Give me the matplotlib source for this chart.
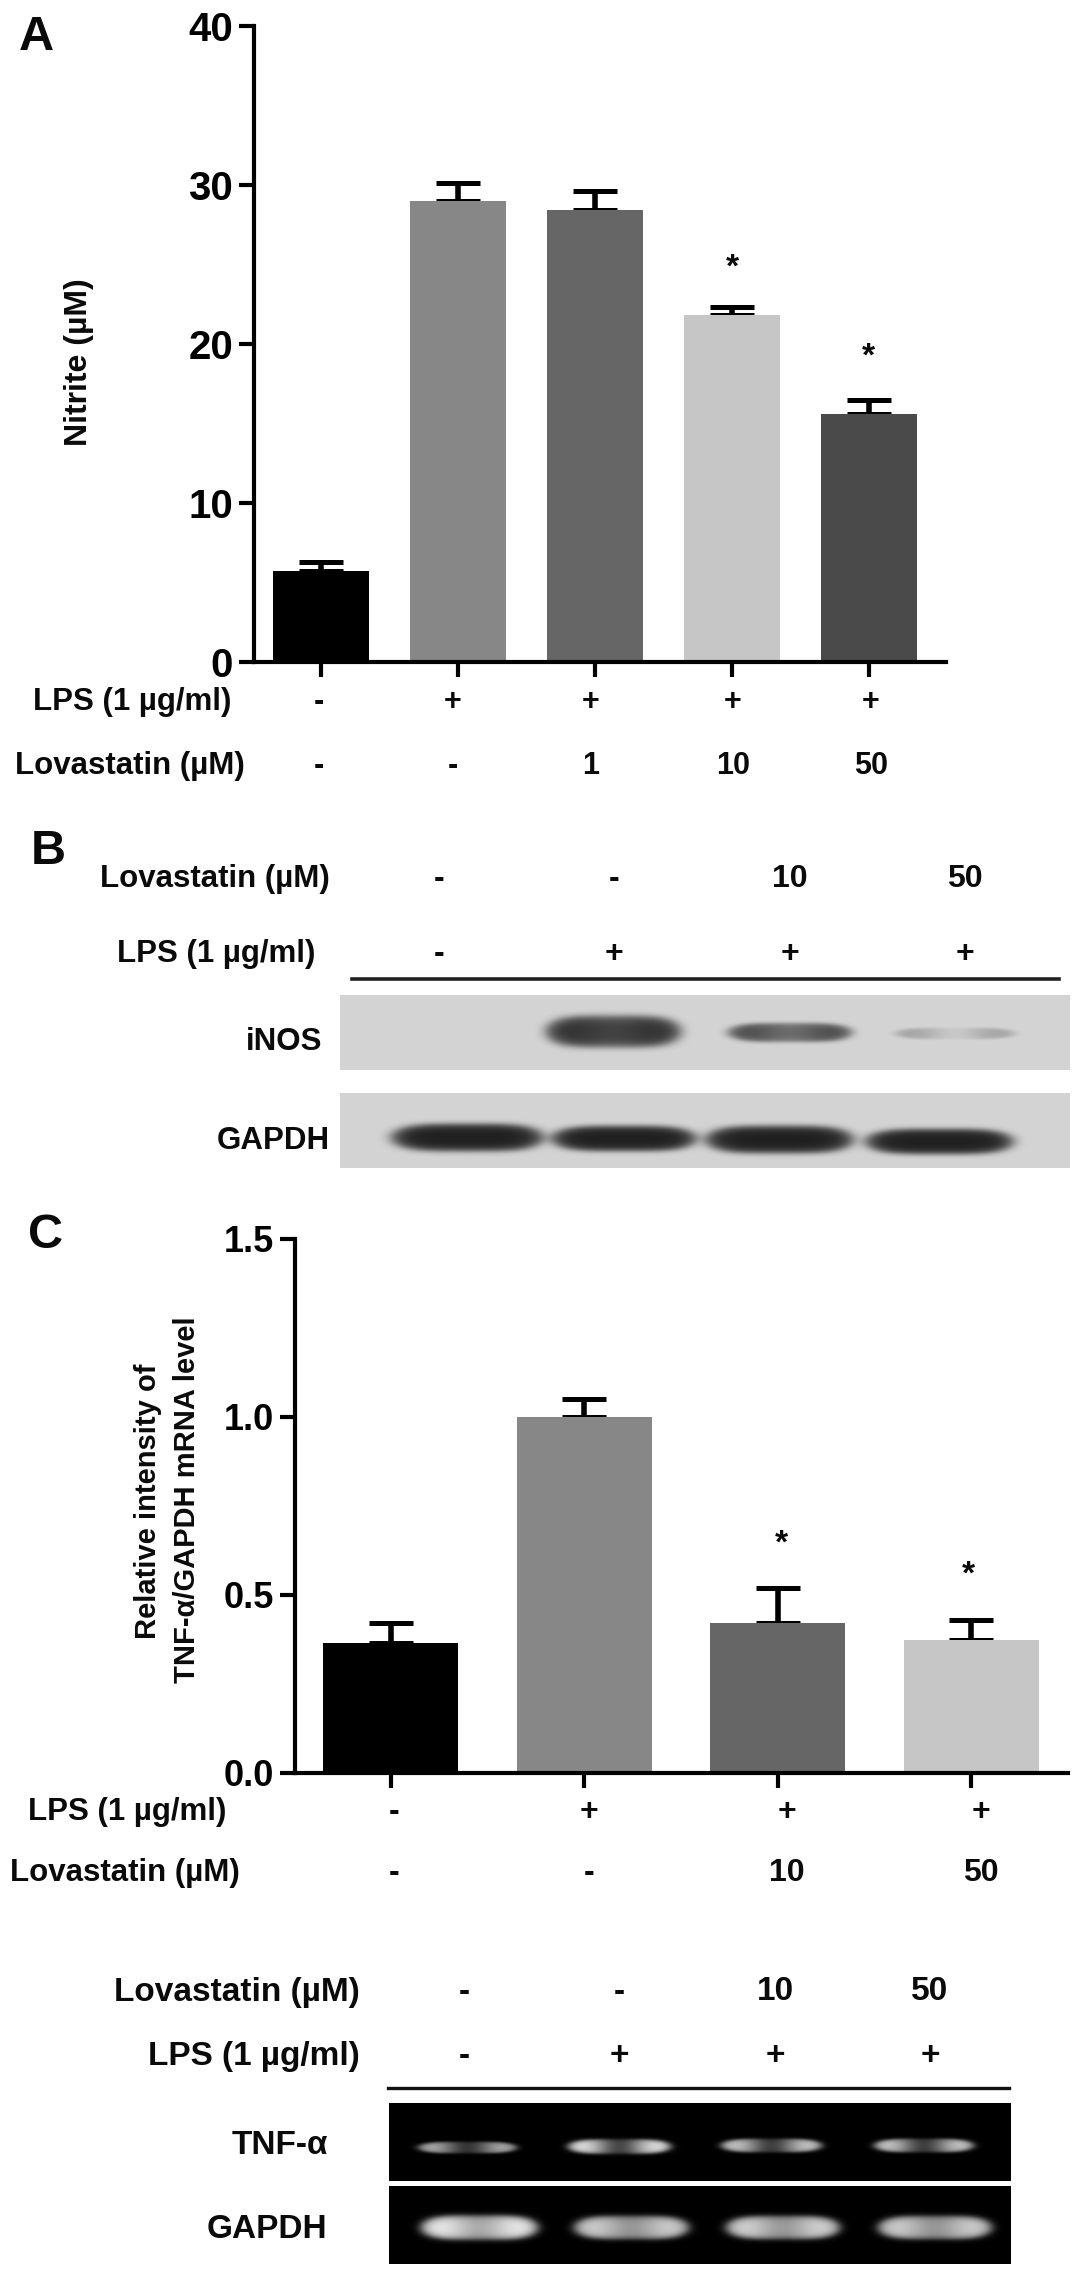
import matplotlib
matplotlib.use("Agg")
import matplotlib.pyplot as plt
import numpy as np

plt.rcParams['font.family'] = ['Liberation Sans', 'DejaVu Sans']
plt.rcParams['font.weight'] = 'bold'

W, H = 1087, 2277

# ------ panel A data:
a_values = [5.7, 29.0, 28.4, 21.8, 15.6]
a_err = [0.6, 1.1, 1.2, 0.5, 0.9]
a_colors = ["#000000", "#878787", "#666666", "#c6c6c6", "#4a4a4a"]
a_ticks = [0, 10, 20, 30, 40]
a_lps = ["-", "+", "+", "+", "+"]
a_lov = ["-", "-", "1", "10", "50"]

# ------ panel C data:
c_values = [0.365, 1.0, 0.42, 0.375]
c_err = [0.055, 0.05, 0.10, 0.055]
c_colors = ["#000000", "#878787", "#666666", "#c6c6c6"]
c_ticks = [0.0, 0.5, 1.0, 1.5]
c_lps = ["-", "+", "+", "+"]
c_lov = ["-", "-", "10", "50"]

# ------ blots, band strength (0 = none, 1 = full):
b_lps = ["-", "+", "+", "+"]
b_lov = ["-", "-", "10", "50"]
inos_strength = [0.95, 0.80, 0.30]
inos_dip = [0.12, 0.25, 0.75]
b_gapdh_strength = [1.0, 1.0, 1.0, 1.0]
tnf_strength = [0.75, 1.0, 0.88, 0.88]
d_gapdh_strength = [1.0, 0.88, 0.90, 0.88]


def chart_axes(fig, left, right, top, bottom):
    return fig.add_axes([left/W, 1-bottom/H, (right-left)/W, (bottom-top)/H])


def page_text(x, y, s, size=22.5, ha="center", rotation=0):
    page.text(x, y, s, fontsize=size, ha=ha, va="center", rotation=rotation,
              fontweight="bold", color="#0a0a0a")


def bar_panel(ax, values, err, colors, ticks, first, step, width, left, right, cap, fmt, size):
    xs = np.arange(len(values))
    ax.bar(xs, values, width=width/step, color=colors, zorder=2)
    ax.errorbar(xs, values, yerr=[np.zeros(len(err)), err], fmt="none", ecolor="black",
                elinewidth=4, capsize=cap, capthick=3.6, zorder=1)
    ax.set_xlim((left-first)/step, (right-first)/step)
    ax.set_ylim(ticks[0], ticks[-1])
    ax.set_yticks(ticks)
    ax.set_yticklabels([fmt % t for t in ticks], fontsize=size, fontweight="bold")
    ax.set_xticks(xs)
    ax.set_xticklabels([])
    ax.spines["top"].set_visible(False)
    ax.spines["right"].set_visible(False)
    ax.spines["left"].set_linewidth(3)
    ax.spines["bottom"].set_linewidth(3)
    ax.tick_params(axis="both", width=3, length=11, pad=4)
    ax.patch.set_alpha(0)


def gel(rect, lefts, rights, yc, heights, strength, bg, fg, dip=None):
    # blot strip as an image, bands with round ends and blurred a bit like the scan
    x0, x1, y0, y1 = rect
    xx, yy = np.meshgrid(np.arange(x0, x1), np.arange(y0, y1))
    img = np.full(xx.shape, float(bg))
    if dip is None:
        dip = [0.0]*len(lefts)
    for l, r, y, h, s, d in zip(lefts, rights, yc, heights, strength, dip):
        mid = (l+r)/2
        dist = ((xx-mid)/((r-l)/2))**4 + ((yy-y)/(h/2))**2
        band = 1/(1+np.exp((dist-1)/0.3))
        band = band * (1 - d*np.exp(-((xx-mid)/((r-l)*0.26))**2))
        img = img + (fg-bg)*s*band
    page.imshow(img, cmap="gray", vmin=0, vmax=1, extent=[x0, x1, y1, y0],
                aspect="auto", interpolation="bilinear", zorder=1)


fig = plt.figure(figsize=(W/100, H/100), dpi=100, facecolor="white")
page = fig.add_axes([0, 0, 1, 1])
page.axis("off")

# --- A
ax_a = chart_axes(fig, 254, 946, 26, 662)
bar_panel(ax_a, a_values, a_err, a_colors, a_ticks, 321, 137, 96, 254, 946, 16, "%d", 29)
page_text(36, 38, "A", size=35)
page_text(79, 362, "Nitrite (µM)", size=23, rotation=90)
page_text(231, 702, "LPS (1 µg/ml)", ha="right")
page_text(245, 766, "Lovastatin (µM)", ha="right")
for x, s in zip([319, 453, 591, 733, 871], a_lps):
    page_text(x, 702, s, size=22)
for x, s in zip([319, 453, 591, 733, 871], a_lov):
    page_text(x, 766, s, size=22)
page_text(732, 268, "*", size=24)
page_text(868, 357, "*", size=24)

# --- B
page_text(48, 851, "B", size=35)
page_text(330, 879, "Lovastatin (µM)", ha="right")
page_text(315, 954, "LPS (1 µg/ml)", ha="right")
for x, s in zip([439, 614, 790, 965], b_lov):
    page_text(x, 879, s, size=23)
for x, s in zip([439, 614, 790, 965], b_lps):
    page_text(x, 954, s, size=23)
page.plot([352, 1059], [979, 979], color="#222222", lw=2.6, zorder=2)
gel((340, 1070, 995, 1070), [548, 730, 897], [678, 849, 1012], [1031, 1032, 1033],
    [30, 18, 11], inos_strength, 0.83, 0.12, dip=inos_dip)
gel((340, 1070, 1093, 1168), [394, 554, 708, 868], [540, 693, 850, 1010],
    [1137, 1138, 1139, 1141], [26, 24, 26, 24], b_gapdh_strength, 0.83, 0.10)
page_text(284, 1042, "iNOS")
page_text(273, 1141, "GAPDH")

# --- C
ax_c = chart_axes(fig, 295, 1068, 1239, 1773)
bar_panel(ax_c, c_values, c_err, c_colors, c_ticks, 390.5, 193.5, 135, 295, 1068, 16, "%.1f", 26)
page_text(46, 1236, "C", size=35)
page_text(148, 1501, "Relative intensity of", size=21, rotation=90)
page_text(187, 1500, "TNF-α/GAPDH mRNA level", size=21, rotation=90)
page_text(226, 1812, "LPS (1 µg/ml)", ha="right")
page_text(240, 1873, "Lovastatin (µM)", ha="right")
for x, s in zip([394, 589, 787, 981], c_lps):
    page_text(x, 1812, s, size=23)
for x, s in zip([394, 589, 787, 981], c_lov):
    page_text(x, 1873, s, size=23)
page_text(781, 1544, "*", size=24)
page_text(968, 1575, "*", size=24)

# --- gel under C
page_text(360, 1992, "Lovastatin (µM)", size=24, ha="right")
page_text(360, 2057, "LPS (1 µg/ml)", size=24, ha="right")
for x, s in zip([464, 619, 775, 930], b_lov):
    page_text(x, 1992, s, size=24)
for x, s in zip([464, 619, 775, 930], b_lps):
    page_text(x, 2057, s, size=24)
page.plot([388, 1009], [2088, 2088], color="#111111", lw=2.4, zorder=2)
gel((389, 1011, 2103, 2181), [420, 570, 723, 876], [514, 668, 819, 971],
    [2147, 2146, 2145, 2145], [11, 14, 13, 13], tnf_strength, 0.0, 1.0, dip=[0.7]*4)
gel((389, 1011, 2186, 2264), [423, 576, 728, 880], [535, 686, 837, 989],
    [2227, 2227, 2227, 2227], [23, 22, 22, 22], d_gapdh_strength, 0.0, 1.0, dip=[0.3]*4)
page_text(280, 2145, "TNF-α", size=24)
page_text(267, 2230, "GAPDH", size=24)

page.set_xlim(0, W)
page.set_ylim(H, 0)

plt.savefig("out.png", dpi=100)
